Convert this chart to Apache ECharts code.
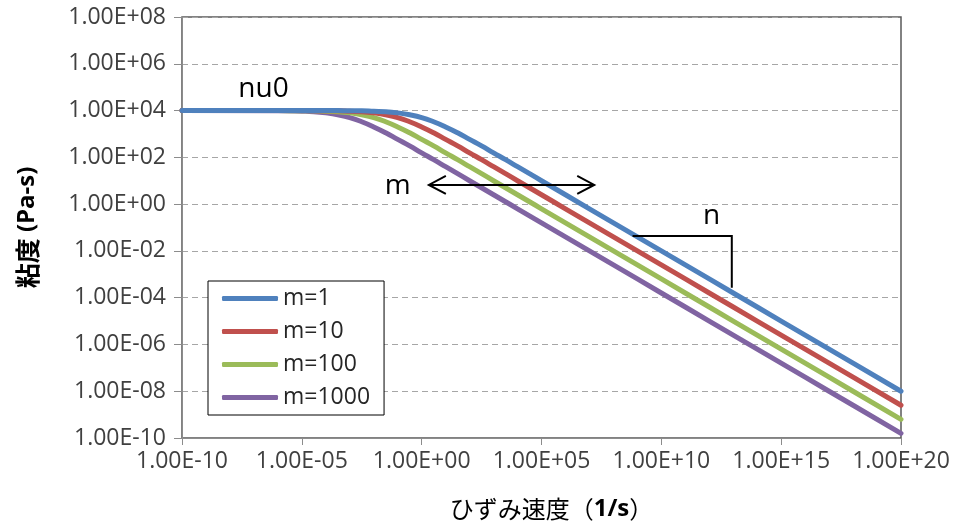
<!DOCTYPE html>
<html>
<head>
<meta charset="utf-8">
<script src="https://cdn.jsdelivr.net/npm/echarts@6/dist/echarts.min.js"></script>
<style>
  html, body { margin: 0; padding: 0; background: #fff; }
  #main { width: 957px; height: 527px; }
</style>
</head>
<body>
<div id="main"></div>
<script>
// strain rate, as log10 exponents (the chart is log-log)
const rateExp = [-10, -6, -5, -4.5, -4, -3.5, -3, -2.5, -2, -1.5, -1, -0.5, 0, 0.5, 1, 1.5,
                 2, 2.5, 3, 3.5, 4, 4.5, 5, 6, 8, 10, 12, 14, 16, 18, 20];

// viscosity, as log10 exponents
const viscM1 = [4.00, 4.00, 4.00, 4.00, 4.00, 4.00, 3.99, 3.99, 3.97, 3.95, 3.90, 3.82, 3.70, 3.52, 3.30, 3.05,
                2.77, 2.49, 2.19, 1.90, 1.60, 1.30, 1.00, 0.40, -0.80, -2.00, -3.20, -4.40, -5.60, -6.80, -8.00];
const viscM10 = [4.00, 4.00, 4.00, 4.00, 3.99, 3.99, 3.97, 3.95, 3.90, 3.82, 3.70, 3.52, 3.30, 3.05, 2.77, 2.49,
                 2.19, 1.90, 1.60, 1.30, 1.00, 0.70, 0.40, -0.20, -1.40, -2.60, -3.80, -5.00, -6.20, -7.40, -8.60];
const viscM100 = [4.00, 4.00, 3.99, 3.99, 3.97, 3.95, 3.90, 3.82, 3.70, 3.52, 3.30, 3.05, 2.77, 2.49, 2.19, 1.90,
                  1.60, 1.30, 1.00, 0.70, 0.40, 0.10, -0.20, -0.80, -2.00, -3.20, -4.40, -5.60, -6.80, -8.00, -9.20];
const viscM1000 = [4.00, 3.99, 3.97, 3.95, 3.90, 3.82, 3.70, 3.52, 3.30, 3.05, 2.77, 2.49, 2.19, 1.90, 1.60, 1.30,
                   1.00, 0.70, 0.40, 0.10, -0.20, -0.50, -0.80, -1.40, -2.60, -3.80, -5.00, -6.20, -7.40, -8.60, -9.80];

const seriesNames = ['m=1', 'm=10', 'm=100', 'm=1000'];
const seriesData = [viscM1, viscM10, viscM100, viscM1000];
const colors = ['#4F81BD', '#C0504D', '#9BBB59', '#8064A2'];

const font = '"Open Sans", "Noto Sans", sans-serif';
const cjkFont = '"Noto Sans CJK JP", "Open Sans", sans-serif';

function toPoints(ys) {
  return rateExp.map(function (x, i) { return [x, ys[i]]; });
}

// exponent -> Excel style "1.00E+08"
function sciLabel(v) {
  const e = Math.round(v);
  const a = Math.abs(e);
  return '1.00E' + (e < 0 ? '-' : '+') + (a < 10 ? '0' + a : a);
}

const chart = echarts.init(document.getElementById('main'));

const option = {
  animation: false,
  color: colors,
  grid: {
    left: 182, right: 56, top: 17, bottom: 89,
    show: true, borderColor: '#595959', borderWidth: 1.5
  },
  legend: {
    orient: 'vertical',
    left: 208, top: 281,
    padding: [6, 14, 6, 14],
    icon: 'roundRect',
    itemWidth: 56, itemHeight: 5, itemGap: 10,
    borderColor: '#000', borderWidth: 1,
    backgroundColor: '#fff',
    textStyle: { fontFamily: font, fontSize: 23, color: '#262626', lineHeight: 22 },
    data: seriesNames
  },
  xAxis: {
    type: 'value',
    min: -10, max: 20, interval: 5,
    name: '{a|ひずみ速度（}{b|1/s}{a|）}',
    nameLocation: 'middle', nameGap: 59,
    nameTextStyle: {
      padding: [0, 0, 0, 20],
      rich: {
        a: { fontFamily: cjkFont, fontSize: 24, color: '#000' },
        b: { fontFamily: font, fontSize: 24, fontWeight: 'bold', color: '#000' }
      }
    },
    axisLine: { onZero: false, lineStyle: { color: '#8C8C8C', width: 1 } },
    axisTick: { show: true, length: 7, lineStyle: { color: '#8C8C8C' } },
    axisLabel: { formatter: sciLabel, fontFamily: font, fontSize: 23, color: '#404040', margin: 12 },
    splitLine: { show: false }
  },
  yAxis: {
    type: 'value',
    min: -10, max: 8, interval: 2,
    name: '{a|粘度}{b| (Pa-s)}',
    nameLocation: 'middle', nameGap: 142,
    nameTextStyle: {
      rich: {
        a: { fontFamily: cjkFont, fontSize: 25, fontWeight: 'bold', color: '#000' },
        b: { fontFamily: font, fontSize: 24, fontWeight: 'bold', color: '#000' }
      }
    },
    axisLine: { show: true, onZero: false, lineStyle: { color: '#8C8C8C', width: 1 } },
    axisTick: { show: true, length: 8, lineStyle: { color: '#8C8C8C' } },
    axisLabel: { formatter: sciLabel, fontFamily: font, fontSize: 23, color: '#404040', margin: 16 },
    splitLine: { show: true, lineStyle: { color: '#A6A6A6', type: [6, 4], width: 1 } }
  },
  series: seriesNames.map(function (name, i) {
    return {
      name: name,
      type: 'line',
      smooth: true,
      showSymbol: false,
      symbol: 'none',
      lineStyle: { width: 5, color: colors[i], cap: 'round' },
      data: toPoints(seriesData[i]),
      z: 10 - i
    };
  })
};

chart.setOption(option);

// annotation anchors, log10 exponents [rate, viscosity]
const nuText = [-6.6, 4.9];
const mText = [-1.0, 0.78];
const mArrow = [[0.3, 0.82], [7.2, 0.82]];
const nBracket = [[8.8, -1.36], [12.94, -1.36], [12.94, -3.58]];
const nText = [12.1, -0.5];

function px(p) {
  return chart.convertToPixel({ gridIndex: 0 }, p);
}

function drawAnnotations() {
  const a0 = px(mArrow[0]), a1 = px(mArrow[1]);
  const b = nBracket.map(px);
  const t1 = px(nuText), t2 = px(mText), t3 = px(nText);
  const line = { stroke: '#000', lineWidth: 2, fill: null };
  const txt = function (p, s) {
    return {
      type: 'text', x: p[0], y: p[1], z: 100,
      style: { text: s, fontFamily: font, fontSize: 28, fill: '#000', align: 'center', verticalAlign: 'middle' }
    };
  };
  chart.setOption({
    graphic: [
      txt(t1, 'nu0'), txt(t2, 'm'), txt(t3, 'n'),
      { type: 'polyline', z: 100, shape: { points: [a0, a1] }, style: line },
      { type: 'polyline', z: 100, shape: { points: [[a0[0] + 17, a0[1] - 9], a0, [a0[0] + 17, a0[1] + 9]] }, style: line },
      { type: 'polyline', z: 100, shape: { points: [[a1[0] - 17, a1[1] - 9], a1, [a1[0] - 17, a1[1] + 9]] }, style: line },
      { type: 'polyline', z: 100, shape: { points: b }, style: line }
    ]
  });
}

drawAnnotations();
</script>
</body>
</html>
